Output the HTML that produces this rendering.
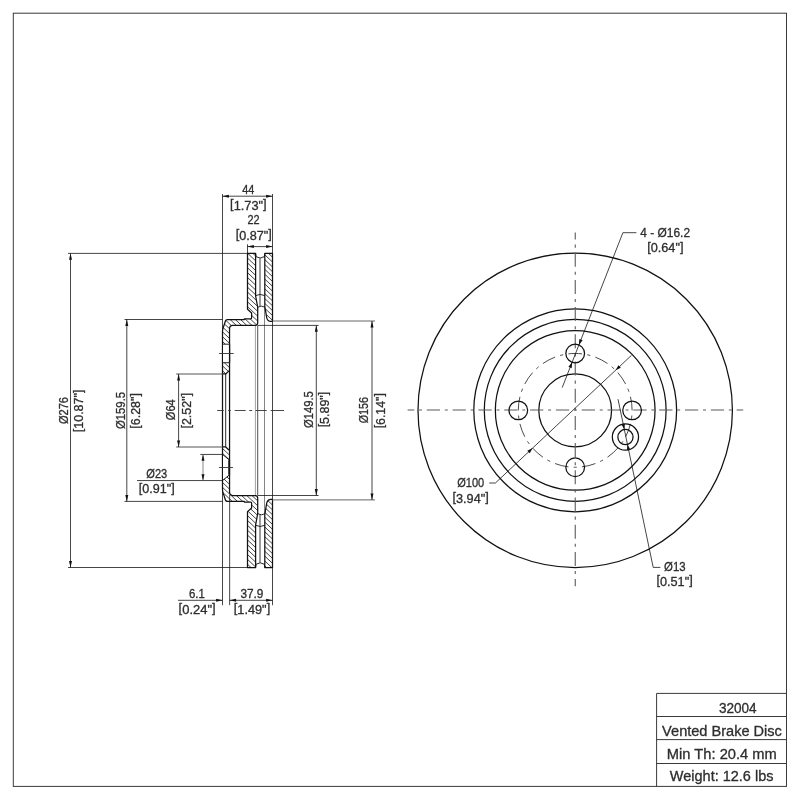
<!DOCTYPE html>
<html lang="en">
<head>
<meta charset="utf-8">
<title>32004 Vented Brake Disc</title>
<style>
html,body{margin:0;padding:0;background:#fff;}
body{width:800px;height:800px;overflow:hidden;}
svg{display:block;will-change:transform;}
.t text{font-family:"Liberation Sans",sans-serif;fill:#2e2e2e;stroke:#2e2e2e;stroke-width:0.3px;}
</style>
</head>
<body>
<svg width="800" height="800" viewBox="0 0 800 800">
<rect x="0" y="0" width="800" height="800" fill="#fff"/>
<rect x="13.3" y="13.2" width="773.20" height="773.20" fill="none" stroke="#3a3a3a" stroke-width="1"/>
<line x1="656.60" y1="693.40" x2="786.50" y2="693.40" stroke="#3a3a3a" stroke-width="1"/>
<line x1="656.60" y1="716.50" x2="786.50" y2="716.50" stroke="#3a3a3a" stroke-width="1"/>
<line x1="656.60" y1="739.60" x2="786.50" y2="739.60" stroke="#3a3a3a" stroke-width="1"/>
<line x1="656.60" y1="763.50" x2="786.50" y2="763.50" stroke="#3a3a3a" stroke-width="1"/>
<line x1="656.60" y1="693.40" x2="656.60" y2="786.40" stroke="#3a3a3a" stroke-width="1"/>
<circle cx="575.20" cy="410.35" r="157.20" fill="none" stroke="#111" stroke-width="1.25"/>
<circle cx="575.20" cy="410.35" r="101.40" fill="none" stroke="#111" stroke-width="1.25"/>
<circle cx="575.20" cy="410.35" r="90.90" fill="none" stroke="#111" stroke-width="1.25"/>
<circle cx="575.20" cy="410.35" r="79.85" fill="none" stroke="#111" stroke-width="1.25"/>
<circle cx="575.20" cy="410.35" r="36.40" fill="none" stroke="#111" stroke-width="1.25"/>
<line x1="407.60" y1="410.00" x2="743.20" y2="410.00" stroke="#5a5a5a" stroke-width="1.1" stroke-dasharray="13.29 4.78 2.97 4.78" stroke-dashoffset="6.65"/>
<line x1="575.25" y1="232.50" x2="575.25" y2="586.20" stroke="#5a5a5a" stroke-width="1.1" stroke-dasharray="14.01 5.03 3.13 5.03" stroke-dashoffset="7.01"/>
<circle cx="575.20" cy="410.35" r="56.90" fill="none" stroke="#2a2a2a" stroke-width="0.85" pathLength="13" stroke-dasharray="0.502 0.191 0.116 0.191" stroke-dashoffset="0.501"/>
<circle cx="632.10" cy="410.35" r="9.35" fill="none" stroke="#111" stroke-width="1.25"/>
<circle cx="575.20" cy="353.45" r="9.35" fill="none" stroke="#111" stroke-width="1.25"/>
<circle cx="518.30" cy="410.35" r="9.35" fill="none" stroke="#111" stroke-width="1.25"/>
<circle cx="575.20" cy="467.25" r="9.35" fill="none" stroke="#111" stroke-width="1.25"/>
<circle cx="625.44" cy="437.06" r="13.10" fill="none" stroke="#111" stroke-width="1.25"/>
<circle cx="625.44" cy="437.06" r="7.60" fill="none" stroke="#111" stroke-width="1.25"/>
<line x1="622.90" y1="232.70" x2="562.20" y2="387.60" stroke="#111" stroke-width="0.78"/>
<polygon points="578.94,344.88 579.35,339.03 582.61,340.31" fill="#111"/>
<polygon points="572.12,362.28 571.71,368.13 568.45,366.85" fill="#111"/>
<line x1="622.90" y1="232.70" x2="636.40" y2="232.70" stroke="#111" stroke-width="0.78"/>
<line x1="495.40" y1="483.00" x2="631.50" y2="355.30" stroke="#111" stroke-width="0.78"/>
<polygon points="532.61,448.08 529.73,453.19 527.33,450.64" fill="#111"/>
<polygon points="615.57,370.25 618.45,365.14 620.85,367.69" fill="#111"/>
<line x1="489.20" y1="483.00" x2="495.40" y2="483.00" stroke="#111" stroke-width="0.78"/>
<line x1="618.00" y1="399.20" x2="653.20" y2="567.40" stroke="#111" stroke-width="0.78"/>
<polygon points="624.35,429.54 621.49,424.42 624.92,423.70" fill="#111"/>
<polygon points="627.46,444.39 630.32,449.51 626.89,450.23" fill="#111"/>
<line x1="653.20" y1="567.40" x2="660.40" y2="567.40" stroke="#111" stroke-width="0.78"/>
<line x1="222.50" y1="194.00" x2="222.50" y2="605.20" stroke="#111" stroke-width="0.78"/>
<line x1="272.50" y1="194.00" x2="272.50" y2="605.20" stroke="#111" stroke-width="0.78"/>
<line x1="247.50" y1="244.30" x2="247.50" y2="253.00" stroke="#111" stroke-width="0.78"/>
<line x1="229.65" y1="495.00" x2="229.65" y2="605.20" stroke="#111" stroke-width="0.78"/>
<line x1="255.40" y1="325.40" x2="255.40" y2="495.50" stroke="#777" stroke-width="0.7"/>
<line x1="257.70" y1="325.40" x2="257.70" y2="495.50" stroke="#333" stroke-width="0.85"/>
<line x1="264.50" y1="306.45" x2="264.50" y2="514.45" stroke="#666" stroke-width="0.8"/>
<line x1="222.50" y1="373.95" x2="222.50" y2="446.95" stroke="#111" stroke-width="1.25"/>
<line x1="225.70" y1="373.95" x2="225.70" y2="446.95" stroke="#111" stroke-width="0.9"/>
<line x1="229.55" y1="370.35" x2="229.55" y2="450.55" stroke="#111" stroke-width="1.25"/>
<clipPath id="c1"><path d="M247.5,253.40 L255.6,253.40 L255.6,295.85 L257.7,307.25 L257.7,322.60 Q257.7,325.40 255.4,325.40 L232.8,325.40 Q229.55,325.40 229.55,328.80 L229.55,370.35 L225.7,373.95 L222.5,373.95 L222.5,331.00 L222.8,329.00 L225.5,320.70 Q226.0,319.50 227.2,319.50 L244.3,319.50 L244.3,318.90 L250.6,318.90 Q251.6,318.80 251.6,317.70 L251.6,312.95 L247.5,309.25 Z"/></clipPath>
<path d="M220.0,198.30L275.0,249.78M220.0,203.16L275.0,254.64M220.0,208.02L275.0,259.50M220.0,212.88L275.0,264.36M220.0,217.74L275.0,269.22M220.0,222.60L275.0,274.08M220.0,227.46L275.0,278.94M220.0,232.32L275.0,283.80M220.0,237.18L275.0,288.66M220.0,242.04L275.0,293.52M220.0,246.90L275.0,298.38M220.0,251.76L275.0,303.24M220.0,256.62L275.0,308.10M220.0,261.48L275.0,312.96M220.0,266.34L275.0,317.82M220.0,271.20L275.0,322.68M220.0,276.06L275.0,327.54M220.0,280.92L275.0,332.40M220.0,285.78L275.0,337.26M220.0,290.64L275.0,342.12M220.0,295.50L275.0,346.98M220.0,300.36L275.0,351.84M220.0,305.22L275.0,356.70M220.0,310.08L275.0,361.56M220.0,314.94L275.0,366.42M220.0,319.80L275.0,371.28M220.0,324.66L275.0,376.14M220.0,329.52L275.0,381.00M220.0,334.38L275.0,385.86M220.0,339.24L275.0,390.72M220.0,344.10L275.0,395.58M220.0,348.96L275.0,400.44M220.0,353.82L275.0,405.30M220.0,358.68L275.0,410.16M220.0,363.54L275.0,415.02M220.0,368.40L275.0,419.88M220.0,373.26L275.0,424.74M220.0,378.12L275.0,429.60" clip-path="url(#c1)" fill="none" stroke="#111" stroke-width="0.78"/>
<path d="M247.5,253.40 L255.6,253.40 L255.6,295.85 L257.7,307.25 L257.7,322.60 Q257.7,325.40 255.4,325.40 L232.8,325.40 Q229.55,325.40 229.55,328.80 L229.55,370.35 L225.7,373.95 L222.5,373.95 L222.5,331.00 L222.8,329.00 L225.5,320.70 Q226.0,319.50 227.2,319.50 L244.3,319.50 L244.3,318.90 L250.6,318.90 Q251.6,318.80 251.6,317.70 L251.6,312.95 L247.5,309.25 Z" fill="none" stroke="#111" stroke-width="1.25" stroke-linejoin="round"/>
<clipPath id="c2"><path d="M264.8,253.40 L272.5,253.40 L272.5,321.45 L270.6,321.45 Q266.7,320.95 266.4,315.95 L264.8,306.45 Z"/></clipPath>
<path d="M220.0,198.30L275.0,249.78M220.0,203.16L275.0,254.64M220.0,208.02L275.0,259.50M220.0,212.88L275.0,264.36M220.0,217.74L275.0,269.22M220.0,222.60L275.0,274.08M220.0,227.46L275.0,278.94M220.0,232.32L275.0,283.80M220.0,237.18L275.0,288.66M220.0,242.04L275.0,293.52M220.0,246.90L275.0,298.38M220.0,251.76L275.0,303.24M220.0,256.62L275.0,308.10M220.0,261.48L275.0,312.96M220.0,266.34L275.0,317.82M220.0,271.20L275.0,322.68M220.0,276.06L275.0,327.54M220.0,280.92L275.0,332.40M220.0,285.78L275.0,337.26M220.0,290.64L275.0,342.12M220.0,295.50L275.0,346.98M220.0,300.36L275.0,351.84M220.0,305.22L275.0,356.70M220.0,310.08L275.0,361.56M220.0,314.94L275.0,366.42M220.0,319.80L275.0,371.28M220.0,324.66L275.0,376.14M220.0,329.52L275.0,381.00M220.0,334.38L275.0,385.86M220.0,339.24L275.0,390.72M220.0,344.10L275.0,395.58M220.0,348.96L275.0,400.44M220.0,353.82L275.0,405.30M220.0,358.68L275.0,410.16M220.0,363.54L275.0,415.02M220.0,368.40L275.0,419.88M220.0,373.26L275.0,424.74M220.0,378.12L275.0,429.60" clip-path="url(#c2)" fill="none" stroke="#111" stroke-width="0.78"/>
<path d="M264.8,253.40 L272.5,253.40 L272.5,321.45 L270.6,321.45 Q266.7,320.95 266.4,315.95 L264.8,306.45 Z" fill="none" stroke="#111" stroke-width="1.25" stroke-linejoin="round"/>
<path d="M255.6,253.40 L256.1,256.70 Q260.2,259.40 264.3,256.70 L264.8,253.40" fill="none" stroke="#111" stroke-width="0.9"/>
<line x1="260.00" y1="258.00" x2="260.00" y2="306.05" stroke="#4a4a4a" stroke-width="1.1"/>
<path d="M255.6,295.65 Q260.2,293.15 264.8,295.65" fill="none" stroke="#111" stroke-width="0.9"/>
<path d="M257.7,307.25 Q261.4,305.05 264.8,307.05" fill="none" stroke="#111" stroke-width="0.9"/>
<clipPath id="c3"><path d="M247.5,567.50 L255.6,567.50 L255.6,525.05 L257.7,513.65 L257.7,498.30 Q257.7,495.50 255.4,495.50 L232.8,495.50 Q229.55,495.50 229.55,492.10 L229.55,450.55 L225.7,446.95 L222.5,446.95 L222.5,489.90 L222.8,491.90 L225.5,500.20 Q226.0,501.40 227.2,501.40 L244.3,501.40 L244.3,502.00 L250.6,502.00 Q251.6,502.10 251.6,503.20 L251.6,507.95 L247.5,511.65 Z"/></clipPath>
<path d="M220.0,387.84L275.0,439.32M220.0,392.70L275.0,444.18M220.0,397.56L275.0,449.04M220.0,402.42L275.0,453.90M220.0,407.28L275.0,458.76M220.0,412.14L275.0,463.62M220.0,417.00L275.0,468.48M220.0,421.86L275.0,473.34M220.0,426.72L275.0,478.20M220.0,431.58L275.0,483.06M220.0,436.44L275.0,487.92M220.0,441.30L275.0,492.78M220.0,446.16L275.0,497.64M220.0,451.02L275.0,502.50M220.0,455.88L275.0,507.36M220.0,460.74L275.0,512.22M220.0,465.60L275.0,517.08M220.0,470.46L275.0,521.94M220.0,475.32L275.0,526.80M220.0,480.18L275.0,531.66M220.0,485.04L275.0,536.52M220.0,489.90L275.0,541.38M220.0,494.76L275.0,546.24M220.0,499.62L275.0,551.10M220.0,504.48L275.0,555.96M220.0,509.34L275.0,560.82M220.0,514.20L275.0,565.68M220.0,519.06L275.0,570.54M220.0,523.92L275.0,575.40M220.0,528.78L275.0,580.26M220.0,533.64L275.0,585.12M220.0,538.50L275.0,589.98M220.0,543.36L275.0,594.84M220.0,548.22L275.0,599.70M220.0,553.08L275.0,604.56M220.0,557.94L275.0,609.42M220.0,562.80L275.0,614.28M220.0,567.66L275.0,619.14M220.0,572.52L275.0,624.00" clip-path="url(#c3)" fill="none" stroke="#111" stroke-width="0.78"/>
<path d="M247.5,567.50 L255.6,567.50 L255.6,525.05 L257.7,513.65 L257.7,498.30 Q257.7,495.50 255.4,495.50 L232.8,495.50 Q229.55,495.50 229.55,492.10 L229.55,450.55 L225.7,446.95 L222.5,446.95 L222.5,489.90 L222.8,491.90 L225.5,500.20 Q226.0,501.40 227.2,501.40 L244.3,501.40 L244.3,502.00 L250.6,502.00 Q251.6,502.10 251.6,503.20 L251.6,507.95 L247.5,511.65 Z" fill="none" stroke="#111" stroke-width="1.25" stroke-linejoin="round"/>
<clipPath id="c4"><path d="M264.8,567.50 L272.5,567.50 L272.5,499.45 L270.6,499.45 Q266.7,499.95 266.4,504.95 L264.8,514.45 Z"/></clipPath>
<path d="M220.0,387.84L275.0,439.32M220.0,392.70L275.0,444.18M220.0,397.56L275.0,449.04M220.0,402.42L275.0,453.90M220.0,407.28L275.0,458.76M220.0,412.14L275.0,463.62M220.0,417.00L275.0,468.48M220.0,421.86L275.0,473.34M220.0,426.72L275.0,478.20M220.0,431.58L275.0,483.06M220.0,436.44L275.0,487.92M220.0,441.30L275.0,492.78M220.0,446.16L275.0,497.64M220.0,451.02L275.0,502.50M220.0,455.88L275.0,507.36M220.0,460.74L275.0,512.22M220.0,465.60L275.0,517.08M220.0,470.46L275.0,521.94M220.0,475.32L275.0,526.80M220.0,480.18L275.0,531.66M220.0,485.04L275.0,536.52M220.0,489.90L275.0,541.38M220.0,494.76L275.0,546.24M220.0,499.62L275.0,551.10M220.0,504.48L275.0,555.96M220.0,509.34L275.0,560.82M220.0,514.20L275.0,565.68M220.0,519.06L275.0,570.54M220.0,523.92L275.0,575.40M220.0,528.78L275.0,580.26M220.0,533.64L275.0,585.12M220.0,538.50L275.0,589.98M220.0,543.36L275.0,594.84M220.0,548.22L275.0,599.70M220.0,553.08L275.0,604.56M220.0,557.94L275.0,609.42M220.0,562.80L275.0,614.28M220.0,567.66L275.0,619.14M220.0,572.52L275.0,624.00" clip-path="url(#c4)" fill="none" stroke="#111" stroke-width="0.78"/>
<path d="M264.8,567.50 L272.5,567.50 L272.5,499.45 L270.6,499.45 Q266.7,499.95 266.4,504.95 L264.8,514.45 Z" fill="none" stroke="#111" stroke-width="1.25" stroke-linejoin="round"/>
<path d="M255.6,567.50 L256.1,564.20 Q260.2,561.50 264.3,564.20 L264.8,567.50" fill="none" stroke="#111" stroke-width="0.9"/>
<line x1="260.00" y1="562.90" x2="260.00" y2="514.85" stroke="#4a4a4a" stroke-width="1.1"/>
<path d="M255.6,525.25 Q260.2,527.75 264.8,525.25" fill="none" stroke="#111" stroke-width="0.9"/>
<path d="M257.7,513.65 Q261.4,515.85 264.8,513.85" fill="none" stroke="#111" stroke-width="0.9"/>
<rect x="222.5" y="344.20" width="7.05" height="18.50" fill="#fff" stroke="none"/>
<line x1="222.50" y1="344.20" x2="229.55" y2="344.20" stroke="#111" stroke-width="0.9"/>
<line x1="222.50" y1="362.70" x2="229.55" y2="362.70" stroke="#111" stroke-width="0.9"/>
<line x1="222.50" y1="344.20" x2="222.50" y2="362.70" stroke="#111" stroke-width="1.0"/>
<line x1="229.55" y1="344.20" x2="229.55" y2="362.70" stroke="#111" stroke-width="1.25"/>
<line x1="219.00" y1="353.50" x2="233.70" y2="353.50" stroke="#333" stroke-width="0.9"/>
<path d="M222.5,454.35 L229.55,460.15 L229.55,474.75 L222.5,480.55 Z" fill="#fff" stroke="#111" stroke-width="1.0"/>
<line x1="222.50" y1="454.35" x2="222.50" y2="480.55" stroke="#111" stroke-width="0.9"/>
<line x1="229.15" y1="460.15" x2="229.15" y2="474.75" stroke="#111" stroke-width="1.8"/>
<line x1="219.00" y1="467.50" x2="233.00" y2="467.50" stroke="#333" stroke-width="0.9"/>
<line x1="217.20" y1="410.50" x2="223.80" y2="410.50" stroke="#333" stroke-width="0.9"/>
<line x1="228.20" y1="410.50" x2="230.80" y2="410.50" stroke="#333" stroke-width="0.9"/>
<line x1="234.70" y1="410.50" x2="245.70" y2="410.50" stroke="#333" stroke-width="0.9"/>
<line x1="249.20" y1="410.50" x2="252.20" y2="410.50" stroke="#333" stroke-width="0.9"/>
<line x1="255.70" y1="410.50" x2="266.70" y2="410.50" stroke="#333" stroke-width="0.9"/>
<line x1="270.60" y1="410.50" x2="284.00" y2="410.50" stroke="#333" stroke-width="0.9"/>
<line x1="222.50" y1="196.20" x2="272.50" y2="196.20" stroke="#111" stroke-width="0.78"/>
<polygon points="222.50,196.20 228.90,194.70 228.90,197.70" fill="#111"/>
<polygon points="272.50,196.20 266.10,197.70 266.10,194.70" fill="#111"/>
<line x1="247.50" y1="246.60" x2="272.50" y2="246.60" stroke="#111" stroke-width="0.78"/>
<polygon points="247.50,246.60 253.90,245.10 253.90,248.10" fill="#111"/>
<polygon points="272.50,246.60 266.10,248.10 266.10,245.10" fill="#111"/>
<line x1="178.00" y1="600.30" x2="222.50" y2="600.30" stroke="#111" stroke-width="0.78"/>
<polygon points="222.50,600.30 216.10,601.80 216.10,598.80" fill="#111"/>
<line x1="229.55" y1="600.30" x2="272.50" y2="600.30" stroke="#111" stroke-width="0.78"/>
<polygon points="229.65,600.30 236.05,598.80 236.05,601.80" fill="#111"/>
<polygon points="272.50,600.30 266.10,601.80 266.10,598.80" fill="#111"/>
<line x1="68.00" y1="253.40" x2="247.50" y2="253.40" stroke="#111" stroke-width="0.78"/>
<line x1="68.00" y1="567.50" x2="247.50" y2="567.50" stroke="#111" stroke-width="0.78"/>
<line x1="70.50" y1="253.40" x2="70.50" y2="567.50" stroke="#111" stroke-width="0.78"/>
<polygon points="70.50,253.40 72.00,259.80 69.00,259.80" fill="#111"/>
<polygon points="70.50,567.50 69.00,561.10 72.00,561.10" fill="#111"/>
<line x1="124.50" y1="319.50" x2="222.50" y2="319.50" stroke="#111" stroke-width="0.78"/>
<line x1="124.50" y1="501.40" x2="222.50" y2="501.40" stroke="#111" stroke-width="0.78"/>
<line x1="126.80" y1="319.50" x2="126.80" y2="501.40" stroke="#111" stroke-width="0.78"/>
<polygon points="126.80,319.50 128.30,325.90 125.30,325.90" fill="#111"/>
<polygon points="126.80,501.40 125.30,495.00 128.30,495.00" fill="#111"/>
<line x1="176.20" y1="374.00" x2="222.50" y2="374.00" stroke="#555" stroke-width="1.0"/>
<line x1="176.20" y1="447.00" x2="222.50" y2="447.00" stroke="#555" stroke-width="1.0"/>
<line x1="178.60" y1="374.00" x2="178.60" y2="447.00" stroke="#111" stroke-width="0.78"/>
<polygon points="178.60,374.00 180.10,380.40 177.10,380.40" fill="#111"/>
<polygon points="178.60,447.00 177.10,440.60 180.10,440.60" fill="#111"/>
<line x1="257.70" y1="325.40" x2="318.60" y2="325.40" stroke="#111" stroke-width="0.78"/>
<line x1="257.70" y1="495.50" x2="318.60" y2="495.50" stroke="#111" stroke-width="0.78"/>
<line x1="316.30" y1="325.40" x2="316.30" y2="495.50" stroke="#111" stroke-width="0.78"/>
<polygon points="316.30,325.40 317.80,331.80 314.80,331.80" fill="#111"/>
<polygon points="316.30,495.50 314.80,489.10 317.80,489.10" fill="#111"/>
<line x1="272.50" y1="321.00" x2="375.00" y2="321.00" stroke="#666" stroke-width="1.0"/>
<line x1="272.50" y1="499.90" x2="375.00" y2="499.90" stroke="#666" stroke-width="1.0"/>
<line x1="372.00" y1="321.00" x2="372.00" y2="499.90" stroke="#111" stroke-width="0.78"/>
<polygon points="372.00,321.00 373.50,327.40 370.50,327.40" fill="#111"/>
<polygon points="372.00,499.90 370.50,493.50 373.50,493.50" fill="#111"/>
<line x1="200.30" y1="454.45" x2="222.50" y2="454.45" stroke="#111" stroke-width="0.78"/>
<line x1="137.00" y1="480.55" x2="222.50" y2="480.55" stroke="#111" stroke-width="0.78"/>
<line x1="203.00" y1="454.35" x2="203.00" y2="480.55" stroke="#666" stroke-width="0.78"/>
<polygon points="203.00,454.45 204.50,460.85 201.50,460.85" fill="#111"/>
<polygon points="203.00,480.55 201.50,474.15 204.50,474.15" fill="#111"/>
<g class="t">
<text x="718.91" y="712.50" font-size="14.1" textLength="37.77" lengthAdjust="spacingAndGlyphs">32004</text>
<text x="662.14" y="735.60" font-size="14.1" textLength="119.76" lengthAdjust="spacingAndGlyphs">Vented Brake Disc</text>
<text x="666.86" y="759.00" font-size="14.1" textLength="109.99" lengthAdjust="spacingAndGlyphs">Min Th: 20.4 mm</text>
<text x="669.82" y="780.70" font-size="14.1" textLength="103.69" lengthAdjust="spacingAndGlyphs">Weight: 12.6 lbs</text>
<text x="640.33" y="236.70" font-size="12.3" textLength="49.71" lengthAdjust="spacingAndGlyphs">4 - Ø16.2</text>
<text x="647.15" y="252.10" font-size="12.3" textLength="36.32" lengthAdjust="spacingAndGlyphs"><tspan dy="-1.6">[</tspan><tspan dy="1.6">0.64&quot;</tspan><tspan dy="-1.6">]</tspan></text>
<text x="457.15" y="486.90" font-size="12.3" textLength="27.05" lengthAdjust="spacingAndGlyphs">Ø100</text>
<text x="452.44" y="502.50" font-size="12.3" textLength="36.34" lengthAdjust="spacingAndGlyphs"><tspan dy="-1.6">[</tspan><tspan dy="1.6">3.94&quot;</tspan><tspan dy="-1.6">]</tspan></text>
<text x="664.01" y="570.80" font-size="12.3" textLength="21.58" lengthAdjust="spacingAndGlyphs">Ø13</text>
<text x="656.46" y="586.00" font-size="12.3" textLength="36.28" lengthAdjust="spacingAndGlyphs"><tspan dy="-1.6">[</tspan><tspan dy="1.6">0.51&quot;</tspan><tspan dy="-1.6">]</tspan></text>
<text x="242.25" y="193.50" font-size="12.3" textLength="12.10" lengthAdjust="spacingAndGlyphs">44</text>
<text x="230.11" y="209.50" font-size="12.3" textLength="36.52" lengthAdjust="spacingAndGlyphs"><tspan dy="-1.6">[</tspan><tspan dy="1.6">1.73&quot;</tspan><tspan dy="-1.6">]</tspan></text>
<text x="247.44" y="224.00" font-size="12.3" textLength="12.17" lengthAdjust="spacingAndGlyphs">22</text>
<text x="235.73" y="239.50" font-size="12.3" textLength="36.11" lengthAdjust="spacingAndGlyphs"><tspan dy="-1.6">[</tspan><tspan dy="1.6">0.87&quot;</tspan><tspan dy="-1.6">]</tspan></text>
<text x="188.90" y="598.00" font-size="12.3" textLength="15.84" lengthAdjust="spacingAndGlyphs">6.1</text>
<text x="178.64" y="613.60" font-size="12.3" textLength="37.03" lengthAdjust="spacingAndGlyphs"><tspan dy="-1.6">[</tspan><tspan dy="1.6">0.24&quot;</tspan><tspan dy="-1.6">]</tspan></text>
<text x="240.40" y="598.00" font-size="12.3" textLength="23.04" lengthAdjust="spacingAndGlyphs">37.9</text>
<text x="233.77" y="613.60" font-size="12.3" textLength="36.42" lengthAdjust="spacingAndGlyphs"><tspan dy="-1.6">[</tspan><tspan dy="1.6">1.49&quot;</tspan><tspan dy="-1.6">]</tspan></text>
<text transform="translate(68.40,424.12) rotate(-90)" font-size="12.3" textLength="27.14" lengthAdjust="spacingAndGlyphs">Ø276</text>
<text transform="translate(83.30,432.20) rotate(-90)" font-size="12.3" textLength="42.58" lengthAdjust="spacingAndGlyphs"><tspan dy="-1.6">[</tspan><tspan dy="1.6">10.87&quot;</tspan><tspan dy="-1.6">]</tspan></text>
<text transform="translate(124.50,429.11) rotate(-90)" font-size="12.3" textLength="37.22" lengthAdjust="spacingAndGlyphs">Ø159.5</text>
<text transform="translate(140.30,428.67) rotate(-90)" font-size="12.3" textLength="35.51" lengthAdjust="spacingAndGlyphs"><tspan dy="-1.6">[</tspan><tspan dy="1.6">6.28&quot;</tspan><tspan dy="-1.6">]</tspan></text>
<text transform="translate(175.10,420.22) rotate(-90)" font-size="12.3" textLength="21.02" lengthAdjust="spacingAndGlyphs">Ø64</text>
<text transform="translate(191.30,428.59) rotate(-90)" font-size="12.3" textLength="35.71" lengthAdjust="spacingAndGlyphs"><tspan dy="-1.6">[</tspan><tspan dy="1.6">2.52&quot;</tspan><tspan dy="-1.6">]</tspan></text>
<text transform="translate(313.00,428.03) rotate(-90)" font-size="12.3" textLength="36.90" lengthAdjust="spacingAndGlyphs">Ø149.5</text>
<text transform="translate(329.00,427.36) rotate(-90)" font-size="12.3" textLength="35.58" lengthAdjust="spacingAndGlyphs"><tspan dy="-1.6">[</tspan><tspan dy="1.6">5.89&quot;</tspan><tspan dy="-1.6">]</tspan></text>
<text transform="translate(368.40,423.34) rotate(-90)" font-size="12.3" textLength="26.39" lengthAdjust="spacingAndGlyphs">Ø156</text>
<text transform="translate(384.60,428.35) rotate(-90)" font-size="12.3" textLength="35.29" lengthAdjust="spacingAndGlyphs"><tspan dy="-1.6">[</tspan><tspan dy="1.6">6.14&quot;</tspan><tspan dy="-1.6">]</tspan></text>
<text x="146.29" y="477.80" font-size="12.3" textLength="21.01" lengthAdjust="spacingAndGlyphs">Ø23</text>
<text x="138.74" y="493.20" font-size="12.3" textLength="35.94" lengthAdjust="spacingAndGlyphs"><tspan dy="-1.6">[</tspan><tspan dy="1.6">0.91&quot;</tspan><tspan dy="-1.6">]</tspan></text>
</g>
</svg>
</body>
</html>
